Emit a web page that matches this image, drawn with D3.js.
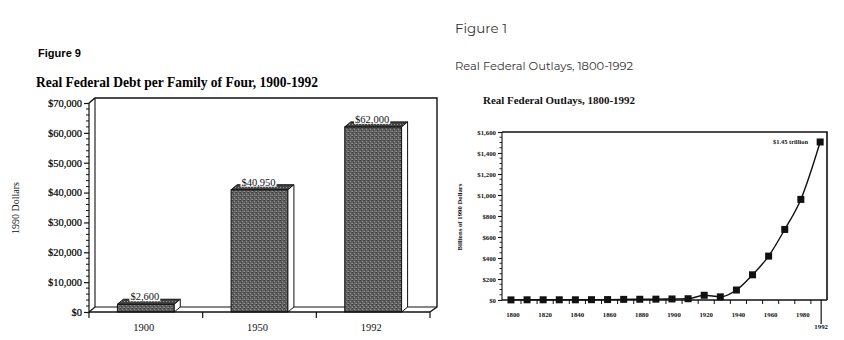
<!DOCTYPE html>
<html><head><meta charset="utf-8">
<script src="https://cdn.jsdelivr.net/npm/d3@7/dist/d3.min.js"></script>
<style>html,body{margin:0;padding:0;background:#fff;}svg{display:block;}</style>
</head><body>
<svg id="c" width="844" height="340"></svg>
<script>
// ---------- data: left chart ----------
const debtCategories = ["1900", "1950", "1992"];
const debtValues = [2600, 40950, 62000];
const debtLabels = ["$2,600", "$40,950", "$62,000"];
const debtTicks = [0, 10000, 20000, 30000, 40000, 50000, 60000, 70000];

// ---------- data: right chart ----------
const outlayYears = [1800,1810,1820,1830,1840,1850,1860,1870,1880,1890,1900,1910,1920,1930,1940,1950,1960,1970,1980,1992];
const outlayValues = [1,2,2,2,2,3,4,6,7,8,10,12,45,30,95,240,418,672,958,1505];
const outlayTicks = [0,200,400,600,800,1000,1200,1400,1600];
const outlayYearLabels = [1800,1820,1840,1860,1880,1900,1920,1940,1960,1980];

const svg = d3.select("#c");
const serif = "'Liberation Serif','Times New Roman',serif";

function fitText(sel, w){ sel.attr("textLength", w).attr("lengthAdjust","spacingAndGlyphs"); return sel; }

// ---------- texture pattern ----------
const defs = svg.append("defs");
const pat = defs.append("pattern").attr("id","stip").attr("patternUnits","userSpaceOnUse").attr("width",4).attr("height",4);
pat.append("rect").attr("width",4).attr("height",4).attr("fill","#606060");
[[0,0,"#3a3a3a"],[2,1,"#8a8a8a"],[1,2,"#444"],[3,3,"#7a7a7a"],[3,0,"#505050"],[0,3,"#909090"]].forEach(([x,y,c])=>
  pat.append("rect").attr("x",x).attr("y",y).attr("width",1).attr("height",1).attr("fill",c));
const pat2 = defs.append("pattern").attr("id","stip2").attr("patternUnits","userSpaceOnUse").attr("width",3).attr("height",3);
pat2.append("rect").attr("width",3).attr("height",3).attr("fill","#444");
pat2.append("rect").attr("x",1).attr("y",1).attr("width",1).attr("height",1).attr("fill","#999");

// ================= LEFT CHART =================
svg.append("text").attr("x",38).attr("y",57).attr("font-family","'Liberation Sans',Arial,sans-serif")
  .attr("font-weight","bold").attr("font-size",11.5).text("Figure 9").call(fitText,43);
svg.append("text").attr("x",36).attr("y",87).attr("font-family",serif)
  .attr("font-weight","bold").attr("font-size",14.5).text("Real Federal Debt per Family of Four, 1900-1992").call(fitText,282);

const L = {x0:89, x1:430, y0:312, y1:103, dx:6, dy:-5};
const ly = d3.scaleLinear().domain([0,70000]).range([L.y0, L.y1]);
const lx = d3.scaleBand().domain(debtCategories).range([L.x0, L.x1]).paddingInner(0.5).paddingOuter(0.25);

const lg = svg.append("g").attr("fill","none").attr("stroke","#111");
// back wall + floor (3D frame)
lg.append("path").attr("stroke-width",1.4)
  .attr("d",`M${L.x0},${ly(70000)} L${L.x0+L.dx},${ly(70000)+L.dy} L${L.x1+L.dx+1},${ly(70000)+L.dy} L${L.x1+L.dx+1},${L.y0+L.dy} L${L.x1},${L.y0}`);
lg.append("path").attr("stroke-width",1.1)
  .attr("d",`M${L.x0+L.dx},${ly(70000)+L.dy} L${L.x0+L.dx},${L.y0+L.dy} L${L.x1+L.dx+1},${L.y0+L.dy}`);
lg.append("path").attr("stroke-width",1.1).attr("d",`M${L.x0},${L.y0} L${L.x0+L.dx},${L.y0+L.dy}`);

// bars
debtValues.forEach((v,i)=>{
  const x = lx(debtCategories[i]), w = lx.bandwidth(), yt = ly(v), yb = L.y0;
  const g = svg.append("g");
  g.append("rect").attr("x",x).attr("y",yt).attr("width",w).attr("height",yb-yt).attr("fill","url(#stip)").attr("stroke","#111").attr("stroke-width",1);
  g.append("path").attr("d",`M${x},${yt} L${x+L.dx},${yt+L.dy} L${x+w+L.dx},${yt+L.dy} L${x+w},${yt} Z`).attr("fill","url(#stip2)").attr("stroke","#111").attr("stroke-width",1);
  g.append("path").attr("d",`M${x+w},${yt} L${x+w+L.dx},${yt+L.dy} L${x+w+L.dx},${yb+L.dy} L${x+w},${yb} Z`).attr("fill","#fff").attr("stroke","#111").attr("stroke-width",1);
  const cx = x + w/2 - 1;
  const t = svg.append("text").attr("x",cx).attr("y",yt-4).attr("text-anchor","middle")
    .attr("font-family",serif).attr("font-size",10.5).attr("fill","#111").text(debtLabels[i]);
  const bb = t.node().getBBox();
  svg.insert("rect", () => t.node()).attr("x",bb.x-1).attr("y",bb.y+1).attr("width",bb.width+2).attr("height",bb.height-2).attr("fill","#fff");
});

// y axis
const yAxisL = svg.append("g").attr("transform",`translate(${L.x0},0)`)
  .call(d3.axisLeft(ly).tickValues(debtTicks).tickFormat(d=>"$"+d3.format(",")(d)).tickSize(5).tickPadding(2));
yAxisL.selectAll("text").attr("font-family",serif).attr("font-size",10.5).attr("fill","#000").attr("stroke","#000").attr("stroke-width",0.2);
yAxisL.selectAll("line,path").attr("stroke","#111").attr("stroke-width",1.2);
yAxisL.select(".domain").attr("d",`M0,${L.y0}V${L.y1}`);
const minorL = d3.range(0,70000,2000).filter(d=>d%10000!==0);
svg.append("g").selectAll("line").data(minorL).join("line")
  .attr("x1",L.x0-3).attr("x2",L.x0).attr("y1",d=>ly(d)).attr("y2",d=>ly(d)).attr("stroke","#111").attr("stroke-width",1);

// x axis
svg.append("line").attr("x1",L.x0).attr("x2",L.x1).attr("y1",L.y0).attr("y2",L.y0).attr("stroke","#111").attr("stroke-width",1.3);
const bounds = [L.x0, ...debtCategories.map(c=>lx(c)+lx.bandwidth()/2+lx.step()/2)];
svg.append("g").selectAll("line").data(bounds).join("line")
  .attr("x1",d=>d).attr("x2",d=>d).attr("y1",L.y0).attr("y2",L.y0+6).attr("stroke","#111").attr("stroke-width",1.2);
svg.append("g").selectAll("text").data(debtCategories).join("text")
  .attr("x",d=>lx(d)+lx.bandwidth()/2-2).attr("y",331).attr("text-anchor","middle")
  .attr("font-family",serif).attr("font-size",10.5).attr("fill","#111").text(d=>d);
svg.append("text").attr("transform","translate(19,208) rotate(-90)").attr("text-anchor","middle")
  .attr("font-family",serif).attr("font-size",10.5).attr("fill","#111").text("1990 Dollars").call(fitText,52);

// ================= RIGHT CHART =================
const sans = "Montserrat,'Open Sans','DejaVu Sans',sans-serif";
svg.append("text").attr("x",455).attr("y",33).attr("font-family",sans).attr("font-size",13.5).attr("fill","#333").text("Figure 1").call(fitText,52);
svg.append("text").attr("x",455).attr("y",70).attr("font-family",sans).attr("font-size",12).attr("fill","#333").text("Real Federal Outlays, 1800-1992").call(fitText,178);
svg.append("text").attr("x",483).attr("y",104).attr("font-family",serif).attr("font-weight","bold")
  .attr("font-size",11).attr("fill","#111").text("Real Federal Outlays, 1800-1992").call(fitText,152);

const R = {x0:502, x1:827, y0:300, y1:132};
const rx = d3.scaleLinear().domain([1793.2, 1995]).range([R.x0, R.x1]);
const ry = d3.scaleLinear().domain([0,1600]).range([R.y0, R.y1]);

// frame
svg.append("path").attr("fill","none").attr("stroke","#111").attr("stroke-width",1.6)
  .attr("d",`M${R.x0},${R.y1} H${R.x1} V${R.y0}`);
const yAxisR = svg.append("g").attr("transform",`translate(${R.x0},0)`)
  .call(d3.axisLeft(ry).tickValues(outlayTicks).tickFormat(d=>"$"+d3.format(",")(d)).tickSize(4).tickPadding(2));
yAxisR.selectAll("text").attr("font-family",serif).attr("font-weight","bold").attr("font-size",6.8).attr("fill","#111");
yAxisR.selectAll("line,path").attr("stroke","#111").attr("stroke-width",1.1);
yAxisR.select(".domain").attr("d",`M0,${R.y0}V${R.y1}`);
const minorR = d3.range(0,1600,50).filter(d=>d%200!==0);
svg.append("g").selectAll("line").data(minorR).join("line")
  .attr("x1",R.x0-2.5).attr("x2",R.x0).attr("y1",d=>ry(d)).attr("y2",d=>ry(d)).attr("stroke","#111").attr("stroke-width",0.9);

// x axis
svg.append("line").attr("x1",R.x0).attr("x2",R.x1).attr("y1",R.y0).attr("y2",R.y0).attr("stroke","#111").attr("stroke-width",1.3);
const decadeTicks = d3.range(1805,1990,10);
svg.append("g").selectAll("line").data(decadeTicks).join("line")
  .attr("x1",d=>rx(d)).attr("x2",d=>rx(d)).attr("y1",R.y0).attr("y2",R.y0+4).attr("stroke","#111").attr("stroke-width",1);
svg.append("line").attr("x1",rx(1992)-1).attr("x2",rx(1992)-1).attr("y1",R.y0).attr("y2",R.y0+24).attr("stroke","#111").attr("stroke-width",1.2);
svg.append("g").selectAll("text").data(outlayYearLabels).join("text")
  .attr("x",d=>rx(d)).attr("y",317).attr("text-anchor","middle")
  .attr("font-family",serif).attr("font-weight","bold").attr("font-size",6.8).attr("fill","#111").text(d=>d);
svg.append("text").attr("x",rx(1992)-1).attr("y",329).attr("text-anchor","middle")
  .attr("font-family",serif).attr("font-weight","bold").attr("font-size",6.8).attr("fill","#111").text("1992");

// line + markers
const pts = outlayYears.map((y,i)=>[y,outlayValues[i]]);
svg.append("path").datum(pts).attr("fill","none").attr("stroke","#111").attr("stroke-width",1.4)
  .attr("d",d3.line().x(d=>rx(d[0])-2).y(d=>ry(d[1])).curve(d3.curveMonotoneX));
svg.append("g").selectAll("rect").data(pts).join("rect")
  .attr("x",d=>rx(d[0])-2-3.5).attr("y",d=>ry(d[1])-3.5).attr("width",7).attr("height",7).attr("fill","#111");
svg.append("text").attr("x",808).attr("y",144).attr("text-anchor","end")
  .attr("font-family",serif).attr("font-weight","bold").attr("font-size",7).attr("fill","#111").text("$1.45 trillion").call(fitText,35);
svg.append("text").attr("transform","translate(462,217) rotate(-90)").attr("text-anchor","middle")
  .attr("font-family",serif).attr("font-weight","bold").attr("font-size",7).attr("fill","#111").text("Billions of 1990 Dollars").call(fitText,67);
</script>
</body></html>
